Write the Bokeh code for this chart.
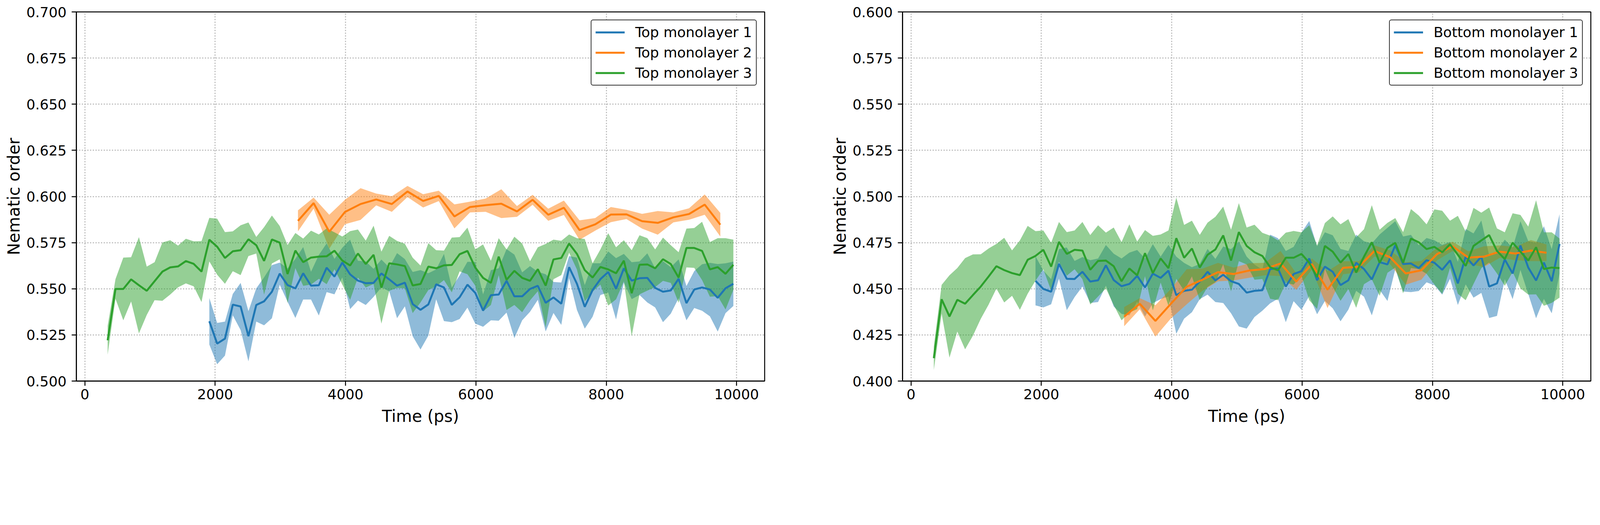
import numpy as np
from bokeh.plotting import figure
from bokeh.layouts import row
from bokeh.models import FixedTicker, PrintfTickFormatter, Range1d
from bokeh.embed import file_html
from bokeh.resources import INLINE

FONT = "DejaVu Sans"
COLORS = ["#1f77b4", "#ff7f0e", "#2ca02c"]

# ---- time axes (ps) ----
T_M1 = list(range(1910, 9951, 120))   # monolayer 1 samples
T_M2 = list(range(3270, 9751, 240))   # monolayer 2 samples
T_M3 = list(range(350, 9951, 120))    # monolayer 3 samples

X_TICKS = [0, 2000, 4000, 6000, 8000, 10000]
TOP_Y_TICKS = [0.500, 0.525, 0.550, 0.575, 0.600, 0.625, 0.650, 0.675, 0.700]
BOT_Y_TICKS = [0.400, 0.425, 0.450, 0.475, 0.500, 0.525, 0.550, 0.575, 0.600]

TOP_LABELS = ["Top monolayer 1", "Top monolayer 2", "Top monolayer 3"]
BOT_LABELS = ["Bottom monolayer 1", "Bottom monolayer 2", "Bottom monolayer 3"]

# ---- Top monolayers: mean and std ----
top1_mean = [.5324, .5203, .5230, .5414, .5404, .5243, .5412, .5432, .5484, .5582,
             .5520, .5502, .5584, .5517, .5519, .5614, .5566, .5642, .5578, .5544,
             .5530, .5532, .5583, .5551, .5517, .5533, .5417, .5386, .5415, .5524,
             .5507, .5413, .5454, .5522, .5478, .5382, .5465, .5469, .5543, .5459,
             .5459, .5499, .5516, .5424, .5453, .5419, .5617, .5527, .5402, .5493,
             .5552, .5591, .5500, .5611, .5544, .5557, .5559, .5505, .5484, .5491,
             .5554, .5422, .5496, .5507, .5496, .5451, .5503, .5527]
top1_std = [.0126, .0112, .0092, .0058, .0128, .0136, .0090, .0130, .0144, .0060,
            .0090, .0160, .0142, .0075, .0164, .0132, .0096, .0080, .0188, .0108,
            .0118, .0076, .0075, .0065, .0176, .0128, .0174, .0215, .0169, .0081,
            .0182, .0094, .0118, .0124, .0167, .0088, .0136, .0142, .0172, .0226,
            .0130, .0124, .0076, .0155, .0084, .0115, .0060, .0142, .0118, .0145,
            .0086, .0111, .0166, .0078, .0100, .0091, .0133, .0106, .0165, .0126,
            .0105, .0093, .0100, .0126, .0145, .0183, .0135, .0120]

top2_mean = [.5868, .5964, .5809, .5916, .5959, .5984, .5959, .6027, .5976, .6003,
             .5892, .5943, .5953, .5961, .5919, .5982, .5901, .5939, .5818, .5849,
             .5902, .5903, .5866, .5857, .5887, .5905, .5956, .5847]
top2_std = [.0057, .0030, .0092, .0066, .0086, .0032, .0042, .0030, .0036, .0028,
            .0065, .0029, .0036, .0078, .0029, .0027, .0033, .0039, .0053, .0034,
            .0041, .0025, .0040, .0064, .0027, .0031, .0055, .0064]

top3_mean = [.5221, .5499, .5499, .5551, .5519, .5489, .5541, .5593, .5616, .5621,
             .5650, .5635, .5593, .5766, .5728, .5667, .5703, .5709, .5768, .5736,
             .5651, .5767, .5750, .5580, .5707, .5644, .5669, .5674, .5676, .5706,
             .5653, .5626, .5691, .5634, .5684, .5506, .5638, .5632, .5623, .5518,
             .5526, .5620, .5611, .5627, .5629, .5687, .5705, .5615, .5559, .5532,
             .5674, .5549, .5597, .5559, .5543, .5606, .5517, .5659, .5667, .5745,
             .5689, .5601, .5561, .5618, .5605, .5584, .5652, .5476, .5630, .5632,
             .5611, .5660, .5634, .5561, .5721, .5721, .5705, .5605, .5617, .5581, .5630]
top3_std = [.0078, .0053, .0170, .0120, .0261, .0131, .0103, .0158, .0147, .0113,
            .0121, .0122, .0165, .0118, .0152, .0140, .0108, .0135, .0091, .0045,
            .0183, .0130, .0090, .0157, .0095, .0128, .0146, .0120, .0151, .0100,
            .0130, .0186, .0130, .0127, .0158, .0195, .0149, .0127, .0121, .0150,
            .0100, .0127, .0098, .0080, .0148, .0093, .0126, .0098, .0181, .0120,
            .0100, .0164, .0185, .0186, .0106, .0119, .0226, .0107, .0093, .0049,
            .0085, .0169, .0077, .0095, .0196, .0141, .0111, .0233, .0160, .0142,
            .0102, .0117, .0102, .0137, .0105, .0108, .0158, .0148, .0157, .0193, .0136]

# ---- Bottom monolayers: mean and std ----
bot1_mean = [.4543, .4499, .4484, .4635, .4554, .4553, .4592, .4539, .4546, .4627,
             .4547, .4514, .4526, .4570, .4507, .4582, .4559, .4598, .4465, .4489,
             .4495, .4539, .4592, .4545, .4576, .4541, .4526, .4479, .4489, .4492,
             .4607, .4610, .4512, .4580, .4595, .4664, .4546, .4620, .4592, .4520,
             .4546, .4641, .4607, .4551, .4644, .4632, .4736, .4634, .4637, .4612,
             .4655, .4641, .4603, .4654, .4529, .4674, .4626, .4674, .4512, .4529,
             .4659, .4583, .4734, .4615, .4545, .4642, .4541, .4743]
bot1_std = [.0133, .0100, .0068, .0080, .0170, .0098, .0080, .0116, .0118, .0110,
            .0143, .0150, .0170, .0140, .0157, .0160, .0115, .0140, .0209, .0151,
            .0122, .0095, .0124, .0117, .0153, .0174, .0230, .0195, .0142, .0111,
            .0186, .0164, .0193, .0147, .0209, .0203, .0184, .0186, .0198, .0196,
            .0159, .0152, .0150, .0195, .0150, .0198, .0130, .0149, .0155, .0124,
            .0120, .0122, .0135, .0100, .0117, .0150, .0174, .0196, .0170, .0176,
            .0107, .0139, .0132, .0143, .0205, .0197, .0174, .0161]

bot2_mean = [.4349, .4419, .4326, .4420, .4511, .4549, .4590, .4580, .4599, .4607,
             .4637, .4539, .4634, .4495, .4614, .4619, .4705, .4671, .4583, .4600,
             .4688, .4730, .4669, .4674, .4701, .4691, .4707, .4695]
bot2_std = [.0052, .0030, .0085, .0080, .0095, .0060, .0050, .0035, .0039, .0034,
            .0068, .0045, .0030, .0100, .0035, .0030, .0030, .0037, .0061, .0051,
            .0034, .0025, .0034, .0056, .0034, .0036, .0057, .0045]

bot3_mean = [.4124, .4443, .4350, .4440, .4419, .4466, .4512, .4566, .4622, .4601,
             .4585, .4574, .4657, .4678, .4711, .4620, .4754, .4689, .4711, .4707,
             .4603, .4651, .4653, .4622, .4541, .4610, .4573, .4693, .4585, .4664,
             .4612, .4774, .4668, .4718, .4615, .4684, .4713, .4789, .4653, .4807,
             .4732, .4698, .4678, .4617, .4600, .4668, .4668, .4689, .4641, .4563,
             .4732, .4701, .4642, .4688, .4588, .4674, .4752, .4641, .4722, .4749,
             .4641, .4772, .4752, .4715, .4727, .4698, .4741, .4684, .4624, .4732,
             .4762, .4791, .4705, .4661, .4750, .4701, .4653, .4725, .4607, .4615, .4612]
bot3_std = [.0064, .0078, .0223, .0172, .0247, .0220, .0175, .0152, .0121, .0175,
            .0123, .0188, .0184, .0134, .0105, .0130, .0108, .0118, .0105, .0155,
            .0188, .0193, .0151, .0210, .0212, .0239, .0183, .0125, .0202, .0130,
            .0204, .0220, .0178, .0151, .0177, .0174, .0177, .0156, .0167, .0157,
            .0100, .0149, .0125, .0171, .0162, .0136, .0145, .0117, .0203, .0172,
            .0124, .0191, .0207, .0189, .0191, .0149, .0201, .0179, .0135, .0134,
            .0166, .0160, .0145, .0134, .0203, .0225, .0128, .0211, .0186, .0206,
            .0150, .0149, .0122, .0145, .0159, .0199, .0184, .0255, .0199, .0191, .0160]

# Pixel sizes are CSS pixels (the page renders at roughly 1.2 device px per CSS px).
FRAME_W = 1762
FRAME_H = 945
BORDER_TOP = 30
BORDER_BOTTOM = 129


def make_panel(labels, series, ylim, yticks, border_left, border_right):
    p = figure(frame_width=FRAME_W, frame_height=FRAME_H,
               min_border_left=border_left, min_border_right=border_right,
               min_border_top=BORDER_TOP, min_border_bottom=BORDER_BOTTOM,
               x_range=Range1d(-130, 10430), y_range=Range1d(*ylim),
               output_backend="svg", toolbar_location=None,
               background_fill_color="white", border_fill_color="white")
    # bands first (beneath all lines)
    for (t, m, s), c in zip(series, COLORS):
        m = np.array(m); s = np.array(s)
        p.varea(x=t, y1=m - s, y2=m + s, fill_color=c, fill_alpha=0.5)
    for (t, m, s), c, lab in zip(series, COLORS, labels):
        p.line(t, m, line_color=c, line_width=5, legend_label=lab)

    p.outline_line_color = "black"
    p.outline_line_width = 2.5
    p.outline_line_alpha = 1

    p.xaxis.ticker = FixedTicker(ticks=X_TICKS)
    p.yaxis.ticker = FixedTicker(ticks=yticks)
    p.yaxis.formatter = PrintfTickFormatter(format="%.3f")
    for ax in (p.xaxis, p.yaxis):
        ax.axis_line_width = 2.5
        ax.major_tick_line_width = 2.5
        ax.major_tick_out = 12
        ax.major_tick_in = 0
        ax.minor_tick_line_color = None
        ax.major_label_text_font = FONT
        ax.major_label_text_font_size = "36px"
        ax.major_label_text_color = "black"
        ax.axis_label_text_font = FONT
        ax.axis_label_text_font_size = "42px"
        ax.axis_label_text_font_style = "normal"
        ax.axis_label_text_color = "black"
    p.xaxis.axis_label = "Time (ps)"
    p.yaxis.axis_label = "Nematic order"
    p.xaxis.major_label_standoff = 8
    p.yaxis.major_label_standoff = 13
    p.xaxis.axis_label_standoff = 16
    p.yaxis.axis_label_standoff = 4

    p.grid.grid_line_color = "#b0b0b0"
    p.grid.grid_line_width = 2.5
    p.grid.grid_line_dash = "3 4"

    lg = p.legend[0]
    lg.location = "top_right"
    lg.margin = 20
    lg.padding = 10
    lg.spacing = 11
    lg.label_height = 35
    lg.glyph_height = 35
    lg.glyph_width = 75
    lg.label_standoff = 27
    lg.label_text_font = FONT
    lg.label_text_font_size = "36px"
    lg.label_text_color = "black"
    lg.border_line_color = "black"
    lg.border_line_width = 2.5
    lg.border_line_alpha = 0.8
    lg.background_fill_color = "white"
    lg.background_fill_alpha = 1.0
    if "border_radius" in lg.properties():
        lg.border_radius = 6
    return p


p1 = make_panel(TOP_LABELS,
                [(T_M1, top1_mean, top1_std), (T_M2, top2_mean, top2_std), (T_M3, top3_mean, top3_std)],
                (0.5, 0.7), TOP_Y_TICKS, 195, 86)
p2 = make_panel(BOT_LABELS,
                [(T_M1, bot1_mean, bot1_std), (T_M2, bot2_mean, bot2_std), (T_M3, bot3_mean, bot3_std)],
                (0.4, 0.6), BOT_Y_TICKS, 267, 14)

layout = row(p1, p2)
open("out.html", "w").write(file_html(layout, INLINE))
